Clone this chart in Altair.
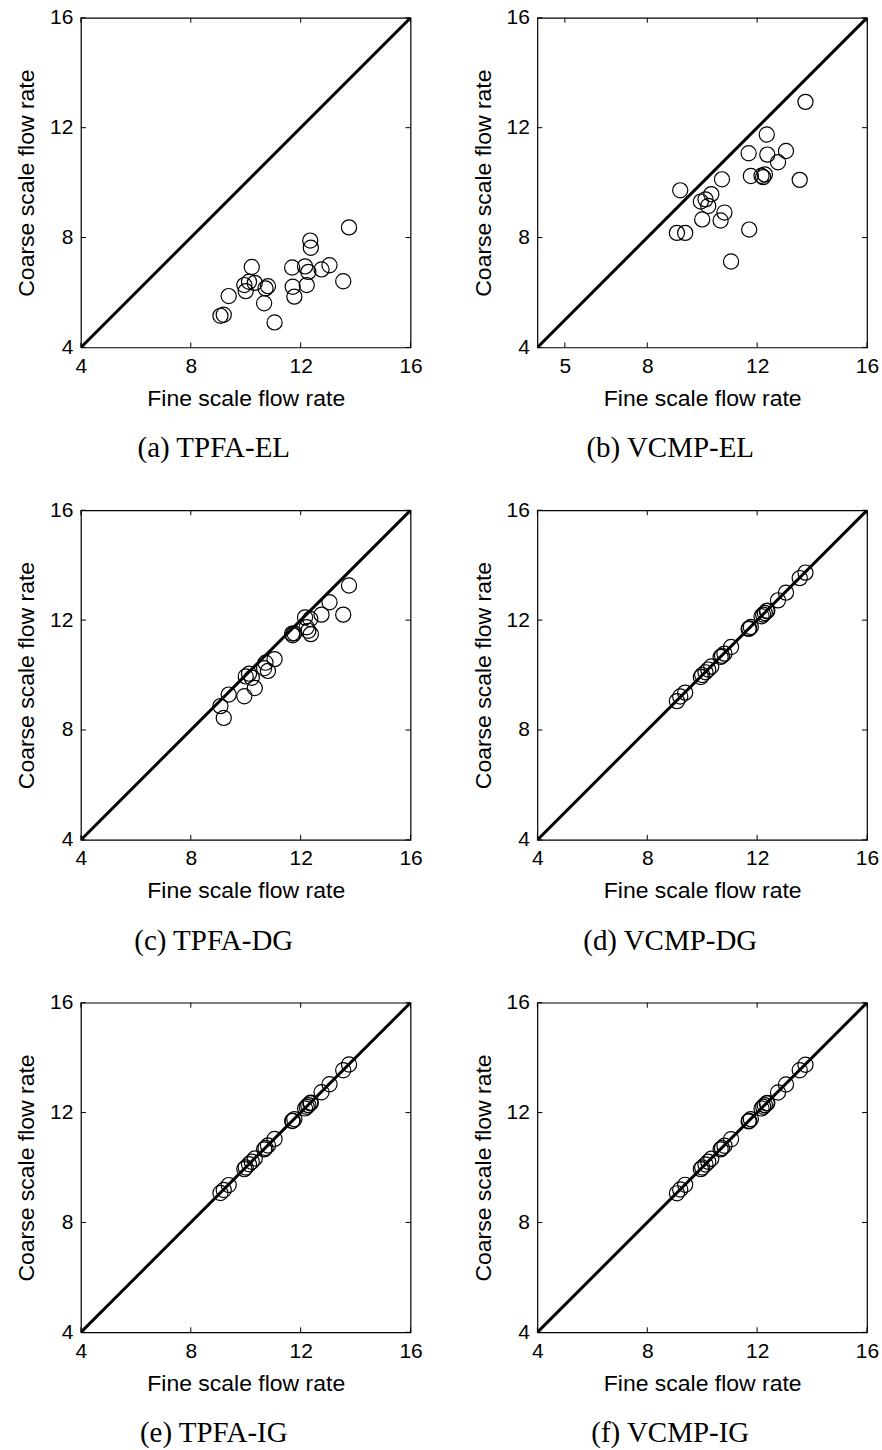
import altair as alt
import pandas as pd

# Fine-scale flow rate of each well (shared by all six panels)
fine = [9.08, 9.20, 9.38, 9.95, 10.00, 10.12, 10.22, 10.33, 10.67, 10.72, 10.81, 11.05,
        11.69, 11.71, 11.77, 12.16, 12.22, 12.28, 12.35, 12.37, 12.76, 13.05, 13.55, 13.76]

# Coarse-scale flow rates per method
coarse_tpfa_el = [5.15, 5.19, 5.87, 6.27, 6.05, 6.39, 6.93, 6.35, 5.61, 6.15, 6.23, 4.91,
                  6.91, 6.21, 5.85, 6.95, 6.27, 6.75, 7.89, 7.63, 6.84, 6.99, 6.41, 8.37]
coarse_vcmp_el = [8.17, 9.72, 8.17, 9.31, 8.66, 9.39, 9.15, 9.58, 8.62, 10.12, 8.91, 7.13,
                  11.07, 8.29, 10.24, 10.25, 10.20, 10.30, 11.75, 11.02, 10.74, 11.15, 10.10, 12.94]
coarse_tpfa_dg = [8.87, 8.44, 9.29, 9.23, 9.95, 10.05, 9.90, 9.53, 10.25, 10.45, 10.15, 10.58,
                  11.51, 11.45, 11.52, 12.10, 11.74, 11.61, 12.04, 11.49, 12.20, 12.65, 12.20, 13.26]
coarse_vcmp_dg = [9.05, 9.22, 9.36, 9.93, 10.00, 10.10, 10.20, 10.31, 10.66, 10.70, 10.78, 11.02,
                  11.68, 11.70, 11.75, 12.14, 12.20, 12.26, 12.33, 12.34, 12.72, 13.00, 13.53, 13.73]
coarse_tpfa_ig = [9.07, 9.18, 9.36, 9.94, 10.00, 10.12, 10.21, 10.33, 10.66, 10.71, 10.80, 11.04,
                  11.69, 11.70, 11.76, 12.15, 12.21, 12.27, 12.34, 12.36, 12.74, 13.03, 13.54, 13.75]
coarse_vcmp_ig = [9.06, 9.20, 9.37, 9.94, 10.00, 10.11, 10.21, 10.32, 10.66, 10.71, 10.79, 11.03,
                  11.68, 11.70, 11.76, 12.15, 12.21, 12.27, 12.34, 12.35, 12.73, 13.02, 13.54, 13.74]

captions = ["(a) TPFA-EL", "(b) VCMP-EL", "(c) TPFA-DG", "(d) VCMP-DG", "(e) TPFA-IG", "(f) VCMP-IG"]
ticks_std = [4, 8, 12, 16]
ticks_b = [5, 8, 12, 16]
diag_ends = [4, 16]

W, H = 330, 330
TICK = 5


def xenc(field, ticks):
    return alt.X(field, type="quantitative",
                 scale=alt.Scale(domain=[4, 16], nice=False, zero=False),
                 axis=alt.Axis(values=ticks, title="Fine scale flow rate"))


def yenc(field):
    return alt.Y(field, type="quantitative",
                 scale=alt.Scale(domain=[4, 16], nice=False, zero=False),
                 axis=alt.Axis(values=ticks_std, title="Coarse scale flow rate"))


def panel(coarse, caption, xticks):
    pts = pd.DataFrame({"fine": fine, "coarse": coarse})
    diag = pd.DataFrame({"v": diag_ends})
    xt = pd.DataFrame({"t": xticks})
    yt = pd.DataFrame({"t": ticks_std})

    line = alt.Chart(diag).mark_line(color="black", strokeWidth=3, clip=True).encode(
        x=xenc("v", xticks), y=yenc("v"))
    scatter = alt.Chart(pts).mark_point(shape="circle", size=230, color="black",
                                        strokeWidth=1.2, filled=False, opacity=1).encode(
        x=xenc("fine", xticks), y=yenc("coarse"))
    bt = alt.Chart(xt).mark_rule(color="black", strokeWidth=1).encode(
        x=xenc("t", xticks), y=alt.value(H), y2=alt.value(H - TICK))
    tt = alt.Chart(xt).mark_rule(color="black", strokeWidth=1).encode(
        x=xenc("t", xticks), y=alt.value(0), y2=alt.value(TICK))
    lt = alt.Chart(yt).mark_rule(color="black", strokeWidth=1).encode(
        y=yenc("t"), x=alt.value(0), x2=alt.value(TICK))
    rt = alt.Chart(yt).mark_rule(color="black", strokeWidth=1).encode(
        y=yenc("t"), x=alt.value(W), x2=alt.value(W - TICK))

    return alt.layer(line, scatter, bt, tt, lt, rt).properties(
        width=W, height=H,
        title=alt.TitleParams(text=caption, orient="bottom", anchor="middle",
                              font="Liberation Serif", fontSize=29, fontWeight="normal",
                              color="black", offset=24, dx=-32),
    )


panels = [
    panel(coarse_tpfa_el, captions[0], ticks_std),
    panel(coarse_vcmp_el, captions[1], ticks_b),
    panel(coarse_tpfa_dg, captions[2], ticks_std),
    panel(coarse_vcmp_dg, captions[3], ticks_std),
    panel(coarse_tpfa_ig, captions[4], ticks_std),
    panel(coarse_vcmp_ig, captions[5], ticks_std),
]

chart = alt.concat(*panels, columns=2, spacing={"row": 163, "column": 127}).properties(
    bounds="flush",
    padding={"left": 15, "top": 5, "right": 2, "bottom": 5},
    background="white",
).configure_view(
    stroke="black", strokeWidth=1.2
).configure_axis(
    domain=False, ticks=False, grid=False, labelFlush=False,
    labelFont="Liberation Sans", labelFontSize=21, labelColor="black", labelPadding=8,
    titleFont="Liberation Sans", titleFontSize=23, titleFontWeight="normal",
    titleColor="black", titlePadding=11,
)

chart.save("out.html", embed_options={"renderer": "svg", "actions": False})
